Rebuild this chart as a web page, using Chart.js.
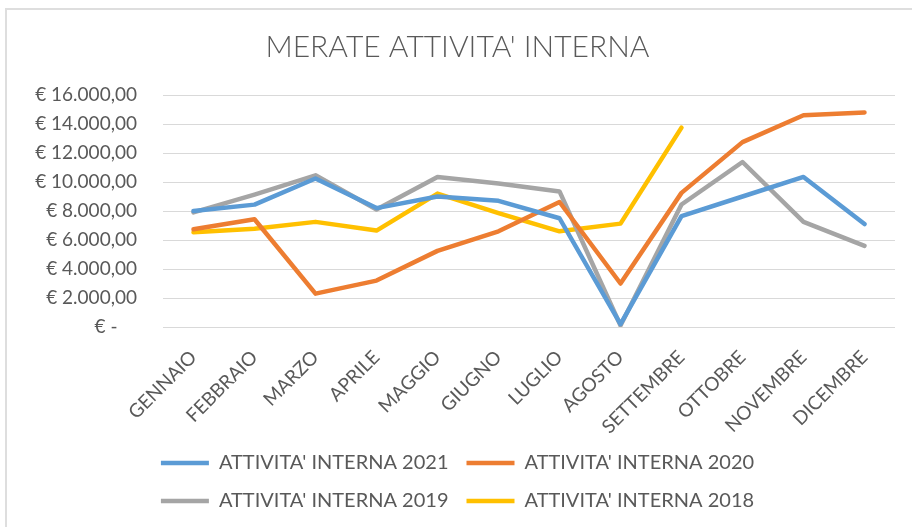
<!DOCTYPE html>
<html>
<head>
<meta charset="utf-8">
<script src="https://cdn.jsdelivr.net/npm/chart.js@4"></script>
<style>
  html, body { margin: 0; padding: 0; background: #fff; }
  #wrap { position: relative; width: 912px; height: 527px; overflow: hidden; }
  #frame { position: absolute; left: 5px; top: 8px; right: -4px; bottom: -4px;
           border-top: 2px solid #dedede; border-left: 2px solid #dedede; }
  #chart { position: absolute; left: 0; top: 0; }
</style>
</head>
<body>
<div id="wrap">
  <div id="frame"></div>
  <canvas id="chart" width="912" height="527"></canvas>
</div>
<script>
// Mesi
const months = ['GENNAIO', 'FEBBRAIO', 'MARZO', 'APRILE', 'MAGGIO', 'GIUGNO',
                'LUGLIO', 'AGOSTO', 'SETTEMBRE', 'OTTOBRE', 'NOVEMBRE', 'DICEMBRE'];

// Valori (euro)
const interna2021 = [8000, 8440, 10240, 8200, 9000, 8700, 7500, 200, 7650, 9000, 10350, 7100];
const interna2020 = [6740, 7430, 2300, 3200, 5250, 6600, 8620, 3000, 9250, 12750, 14600, 14800];
const interna2019 = [7900, 9130, 10460, 8100, 10350, 9900, 9350, 100, 8450, 11380, 7250, 5600];
const interna2018 = [6530, 6780, 7250, 6650, 9200, 7850, 6600, 7130, 13750, null, null, null];

// Etichette asse Y
const yTickLabels = ['€ -    ', '€ 2.000,00', '€ 4.000,00', '€ 6.000,00', '€ 8.000,00',
                     '€ 10.000,00', '€ 12.000,00', '€ 14.000,00', '€ 16.000,00'];

const textColor = '#595959';
const fontFamily = 'Lato, "Open Sans", sans-serif';

function lineSet(label, data, color) {
    return {
        label: label,
        data: data,
        borderColor: color,
        backgroundColor: color,
        borderWidth: 4.5,
        borderCapStyle: 'round',
        borderJoinStyle: 'round',
        pointRadius: 0,
        pointHoverRadius: 0,
        tension: 0,
        spanGaps: false
    };
}

const ctx = document.getElementById('chart').getContext('2d');
new Chart(ctx, {
    type: 'line',
    data: {
        labels: months,
        datasets: [
            lineSet("ATTIVITA' INTERNA 2021", interna2021, '#5B9BD5'),
            lineSet("ATTIVITA' INTERNA 2020", interna2020, '#ED7D31'),
            lineSet("ATTIVITA' INTERNA 2019", interna2019, '#A5A5A5'),
            lineSet("ATTIVITA' INTERNA 2018", interna2018, '#FFC000')
        ]
    },
    options: {
        responsive: false,
        animation: false,
        layout: { padding: { left: 20, right: 17, top: 8, bottom: 6 } },
        plugins: {
            title: {
                display: true,
                text: "MERATE ATTIVITA' INTERNA",
                color: textColor,
                font: { family: fontFamily, size: 30, weight: 300 },
                padding: { top: 21, bottom: 30 }
            },
            legend: {
                position: 'bottom',
                labels: {
                    usePointStyle: true,
                    pointStyle: 'line',
                    pointStyleWidth: 48,
                    color: textColor,
                    font: { family: fontFamily, size: 20 },
                    padding: 18
                }
            },
            tooltip: { enabled: false }
        },
        scales: {
            x: {
                offset: true,
                grid: { display: false },
                border: { display: false },
                ticks: {
                    color: textColor,
                    font: { family: fontFamily, size: 19 },
                    minRotation: 45,
                    maxRotation: 45,
                    padding: 11,
                    autoSkip: false
                },
                afterFit: function (scale) { scale.height = 108; }
            },
            y: {
                min: 0,
                max: 16000,
                ticks: {
                    stepSize: 2000,
                    color: textColor,
                    font: { family: fontFamily, size: 19 },
                    padding: 26,
                    callback: function (value) { return yTickLabels[Math.round(value / 2000)]; }
                },
                grid: { color: '#d9d9d9', lineWidth: 1, drawTicks: false },
                border: { display: false },
                afterFit: function (scale) { scale.width = 143; }
            }
        }
    }
});
</script>
</body>
</html>
